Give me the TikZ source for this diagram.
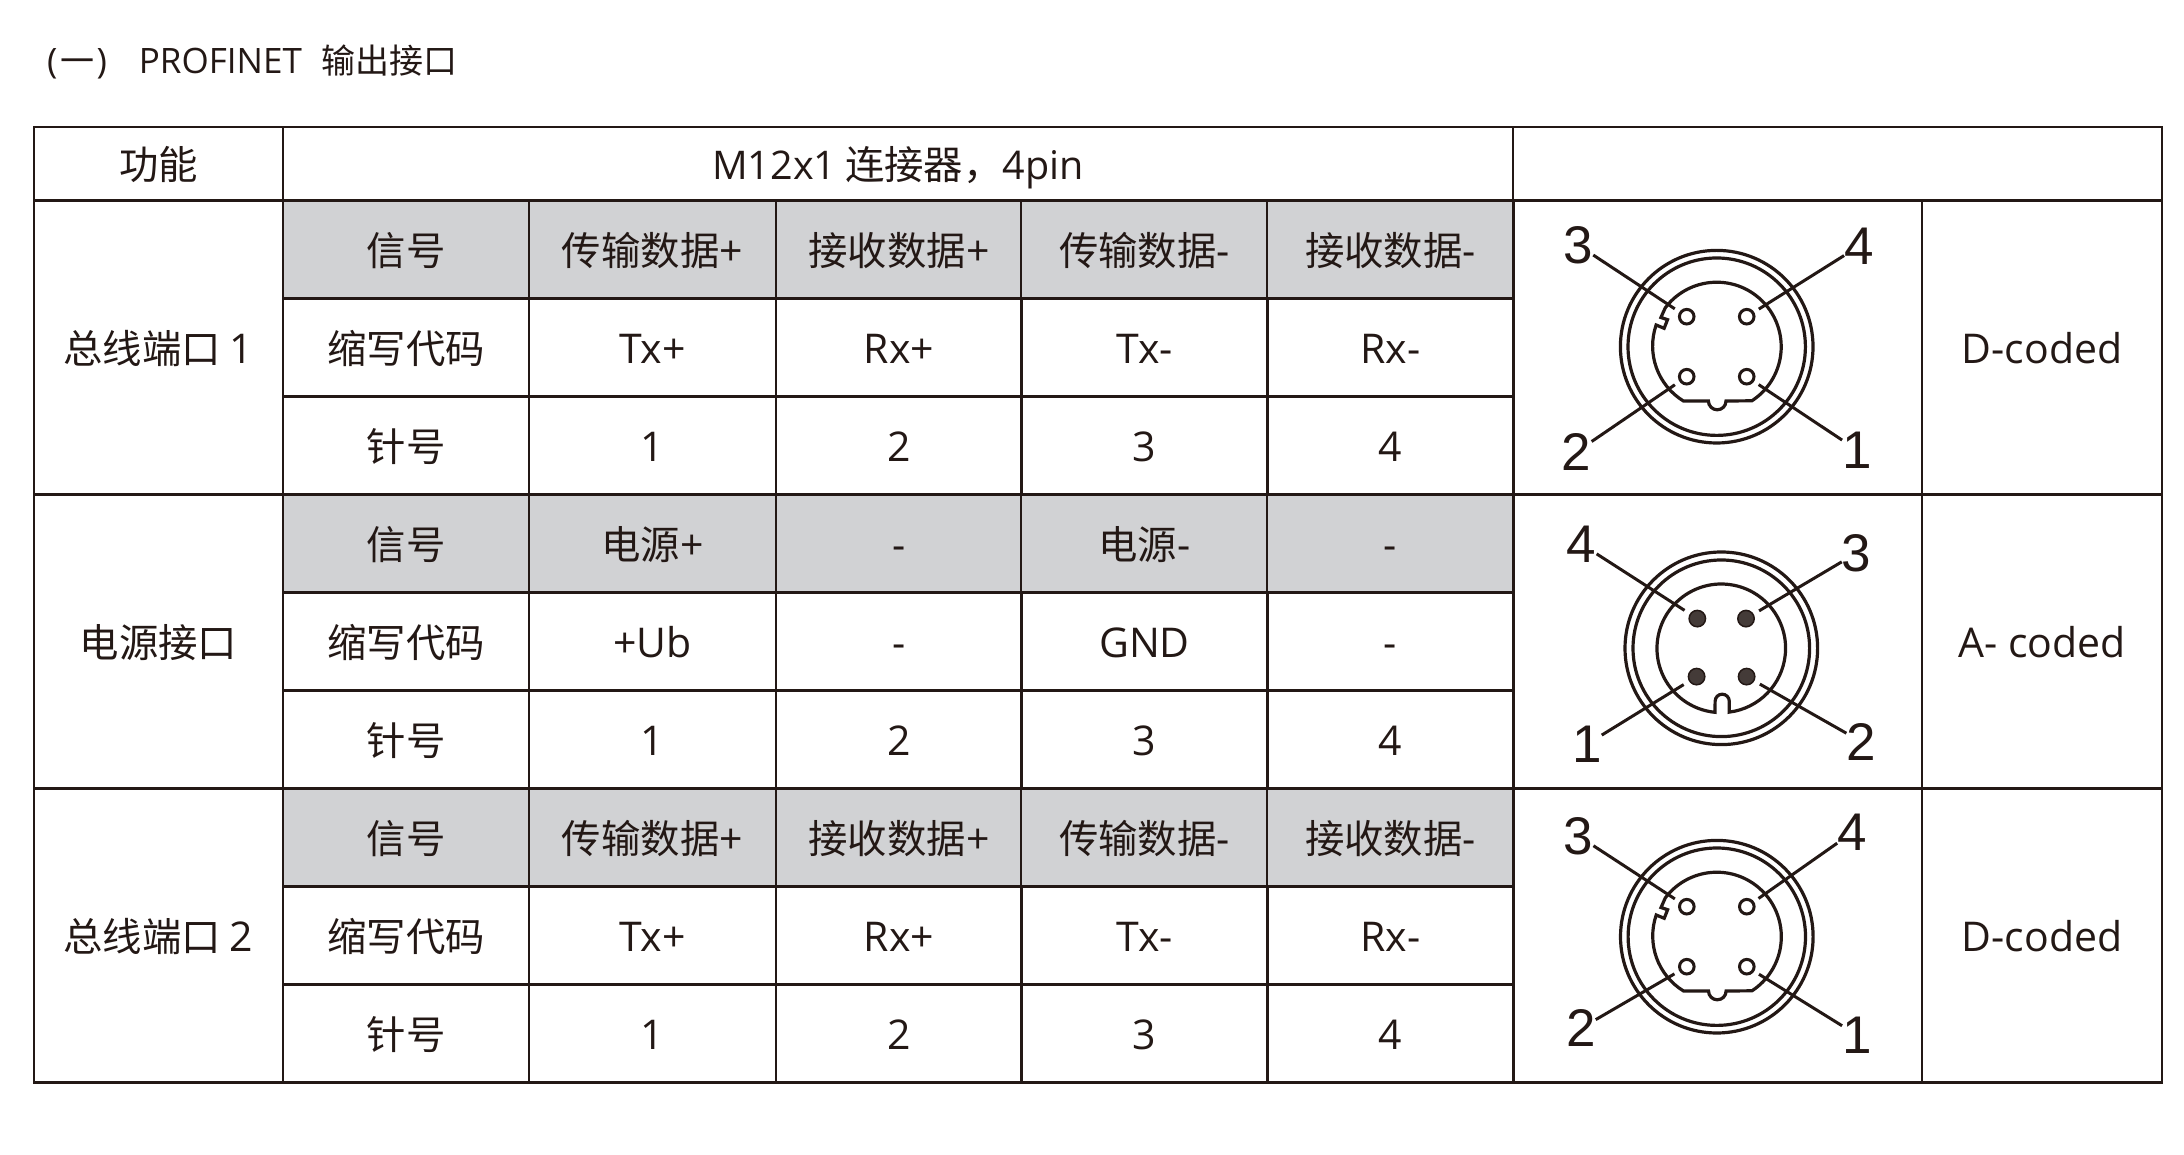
\documentclass[tikz,border=0pt]{standalone}
\usepackage{fontspec}
\setmainfont{Open Sans}
\newfontfamily\cjk{Noto Sans CJK SC}
\newfontfamily\pinfont{Liberation Sans}
\definecolor{ink}{HTML}{231815}
\definecolor{shade}{HTML}{D1D2D4}
\newcommand{\lat}[1]{{\fontsize{41}{41}\selectfont\rmfamily #1}}
\newcommand{\latb}[1]{{\fontsize{39.5}{39.5}\selectfont\rmfamily #1}}
\tikzset{
    x=1pt, y=1pt,
    cell/.style={draw=ink, line width=2.4pt, inner sep=0pt, text=ink, minimum height=98pt, text height=34pt, text depth=2pt, font=\fontsize{39.4}{39.4}\selectfont\cjk},
    head/.style={cell, fill=shade},
    cola/.style={minimum width=249pt},
    colb/.style={minimum width=246.5pt},
    colc/.style={minimum width=409pt},
    cold/.style={minimum width=240pt},
    ring/.style={draw=ink, line width=3.2pt},
    pinopen/.style={circle, draw=ink, line width=3pt, fill=white, minimum size=14.6pt, inner sep=0pt, outer sep=7pt},
    pinfull/.style={circle, draw=ink, line width=1.5pt, fill=ink!85!white, minimum size=16.4pt, inner sep=0pt, outer sep=7pt},
    pinnum/.style={font=\fontsize{53}{53}\selectfont\pinfont, text=ink, inner sep=0pt, text depth=0pt},
    lead/.style={draw=ink, line width=3pt},
}
% outline of the D-coded key, about the centre of the connector
\newcommand{\dkey}{(-51.5,38.8) arc[start angle=143, end angle=-57, radius=64.5pt]
    -- (9.3,-54.3) arc[start angle=0, end angle=-180, radius=8.8pt] -- (-33.3,-54.3)
    arc[start angle=238.5, end angle=161, radius=64.5pt] -- ++(8,-3.3) -- ++(3.4,8.6) -- ++(-6.6,2.2) -- cycle}

\begin{document}
\begin{tikzpicture}
    \useasboundingbox (0,0) rectangle (2184,1154);
    \node[anchor=west, inner sep=0pt, text=ink, font=\fontsize{35}{35}\selectfont] (TITLE) at (47,1092) {(\hspace{3pt}{\cjk\fontsize{34}{34}\selectfont 一}\hspace{2pt})\hspace{32pt}PROFINET\hspace{20pt}{\cjk\fontsize{34}{34}\selectfont 输出接口}};

    % first row
    \node[cell, cola, minimum height=73.2pt] (F0) at (158.5,990.1) {功能};
    \node[cell, minimum width=1230pt, minimum height=73.2pt] (F1) at (898,990.1) {\latb{M12x1} 连接器，\latb{4pin}};
    \node[cell, minimum width=649pt, minimum height=73.2pt] (F2) at (1837.5,990.1) {};

    % bus port 1
    \node[cell, cola, minimum height=294pt] (A0) at (158.5,806.5) {总线端口 \lat{1}};
    \node[head, colb] (A11) at (406,904) {信号};
    \node[head, colb] (A12) at (652.5,904) {传输数据\lat{+}};
    \node[head, colb] (A13) at (899,904) {接收数据\lat{+}};
    \node[head, colb] (A14) at (1144.5,904) {传输数据\lat{-}};
    \node[head, colb] (A15) at (1390.5,904) {接收数据\lat{-}};
    \node[cell, colb] (A21) at (406,806.5) {缩写代码};
    \node[cell, colb] (A22) at (652.5,806.5) {\lat{Tx+}};
    \node[cell, colb] (A23) at (899,806.5) {\lat{Rx+}};
    \node[cell, colb] (A24) at (1144.5,806.5) {\lat{Tx-}};
    \node[cell, colb] (A25) at (1390.5,806.5) {\lat{Rx-}};
    \node[cell, colb] (A31) at (406,708) {针号};
    \node[cell, colb] (A32) at (652.5,708) {\lat{1}};
    \node[cell, colb] (A33) at (899,708) {\lat{2}};
    \node[cell, colb] (A34) at (1144.5,708) {\lat{3}};
    \node[cell, colb] (A35) at (1390.5,708) {\lat{4}};
    \node[cell, colc, minimum height=294pt] (A6) at (1717.5,806.5) {};
    \node[cell, cold, minimum height=294pt] (A7) at (2042,806.5) {\lat{D-coded}};

    % power port
    \node[cell, cola, minimum height=294pt] (B0) at (158.5,512.5) {电源接口};
    \node[head, colb] (B11) at (406,610.5) {信号};
    \node[head, colb] (B12) at (652.5,610.5) {电源\lat{+}};
    \node[head, colb] (B13) at (899,610.5) {\lat{-}};
    \node[head, colb] (B14) at (1144.5,610.5) {电源\lat{-}};
    \node[head, colb] (B15) at (1390.5,610.5) {\lat{-}};
    \node[cell, colb] (B21) at (406,512.5) {缩写代码};
    \node[cell, colb] (B22) at (652.5,512.5) {\lat{+Ub}};
    \node[cell, colb] (B23) at (899,512.5) {\lat{-}};
    \node[cell, colb] (B24) at (1144.5,512.5) {\lat{GND}};
    \node[cell, colb] (B25) at (1390.5,512.5) {\lat{-}};
    \node[cell, colb] (B31) at (406,414.5) {针号};
    \node[cell, colb] (B32) at (652.5,414.5) {\lat{1}};
    \node[cell, colb] (B33) at (899,414.5) {\lat{2}};
    \node[cell, colb] (B34) at (1144.5,414.5) {\lat{3}};
    \node[cell, colb] (B35) at (1390.5,414.5) {\lat{4}};
    \node[cell, colc, minimum height=294pt] (B6) at (1717.5,512.5) {};
    \node[cell, cold, minimum height=294pt] (B7) at (2042,512.5) {\lat{A- coded}};

    % bus port 2
    \node[cell, cola, minimum height=294pt] (C0) at (158.5,218.5) {总线端口 \lat{2}};
    \node[head, colb] (C11) at (406,316.5) {信号};
    \node[head, colb] (C12) at (652.5,316.5) {传输数据\lat{+}};
    \node[head, colb] (C13) at (899,316.5) {接收数据\lat{+}};
    \node[head, colb] (C14) at (1144.5,316.5) {传输数据\lat{-}};
    \node[head, colb] (C15) at (1390.5,316.5) {接收数据\lat{-}};
    \node[cell, colb] (C21) at (406,218.5) {缩写代码};
    \node[cell, colb] (C22) at (652.5,218.5) {\lat{Tx+}};
    \node[cell, colb] (C23) at (899,218.5) {\lat{Rx+}};
    \node[cell, colb] (C24) at (1144.5,218.5) {\lat{Tx-}};
    \node[cell, colb] (C25) at (1390.5,218.5) {\lat{Rx-}};
    \node[cell, colb] (C31) at (406,120.5) {针号};
    \node[cell, colb] (C32) at (652.5,120.5) {\lat{1}};
    \node[cell, colb] (C33) at (899,120.5) {\lat{2}};
    \node[cell, colb] (C34) at (1144.5,120.5) {\lat{3}};
    \node[cell, colb] (C35) at (1390.5,120.5) {\lat{4}};
    \node[cell, colc, minimum height=294pt] (C6) at (1717.5,218.5) {};
    \node[cell, cold, minimum height=294pt] (C7) at (2042,218.5) {\lat{D-coded}};

    % connector of bus port 1
    \begin{scope}[shift={(1716.7,807.3)}]
        \draw[ring] (0,0) circle[radius=96.3pt];
        \draw[ring] (0,0) circle[radius=88.7pt];
        \draw[ring] \dkey;
        \node[pinopen] (AP3) at (-30,30) {};
        \node[pinopen] (AP4) at (30,30) {};
        \node[pinopen] (AP2) at (-30,-30) {};
        \node[pinopen] (AP1) at (30,-30) {};
        \node[pinnum] (AN3) at (-138.4,101.5) {3};
        \node[pinnum] (AN4) at (142.3,100.5) {4};
        \node[pinnum] (AN2) at (-140,-105) {2};
        \node[pinnum] (AN1) at (140.3,-103.3) {1};
        \draw[lead] (AN3)--(AP3);
        \draw[lead] (AN4)--(AP4);
        \draw[lead] (AN2)--(AP2);
        \draw[lead] (AN1)--(AP1);
    \end{scope}

    % connector of the power port
    \begin{scope}[shift={(1721.3,505.7)}]
        \draw[ring] (0,0) circle[radius=96.3pt];
        \draw[ring] (0,0) circle[radius=88.3pt];
        \draw[ring] (-6.3,-64) arc[start angle=264.4, end angle=-83, radius=64.3pt]
            -- (8,-53) arc[start angle=0, end angle=180, radius=7.1pt] -- cycle;
        \node[pinfull] (BP4) at (-24,29.7) {};
        \node[pinfull] (BP3) at (24.7,29.7) {};
        \node[pinfull] (BP1) at (-24.7,-28.3) {};
        \node[pinfull] (BP2) at (25.3,-28.3) {};
        \node[pinnum] (BN4) at (-139.6,104) {4};
        \node[pinnum] (BN3) at (135.4,95.3) {3};
        \node[pinnum] (BN1) at (-134.5,-96) {1};
        \node[pinnum] (BN2) at (140,-93.4) {2};
        \draw[lead] (BN4)--(BP4);
        \draw[lead] (BN3)--(BP3);
        \draw[lead] (BN1)--(BP1);
        \draw[lead] (BN2)--(BP2);
    \end{scope}

    % connector of bus port 2
    \begin{scope}[shift={(1716.8,217.3)}]
        \draw[ring] (0,0) circle[radius=96.3pt];
        \draw[ring] (0,0) circle[radius=88.7pt];
        \draw[ring] \dkey;
        \node[pinopen] (CP3) at (-30,30) {};
        \node[pinopen] (CP4) at (30,30) {};
        \node[pinopen] (CP2) at (-30,-30) {};
        \node[pinopen] (CP1) at (30,-30) {};
        \node[pinnum] (CN3) at (-138.3,100.7) {3};
        \node[pinnum] (CN4) at (135.3,104) {4};
        \node[pinnum] (CN2) at (-136,-91.6) {2};
        \node[pinnum] (CN1) at (140.2,-98.3) {1};
        \draw[lead] (CN3)--(CP3);
        \draw[lead] (CN4)--(CP4);
        \draw[lead] (CN2)--(CP2);
        \draw[lead] (CN1)--(CP1);
    \end{scope}
\end{tikzpicture}
\end{document}
